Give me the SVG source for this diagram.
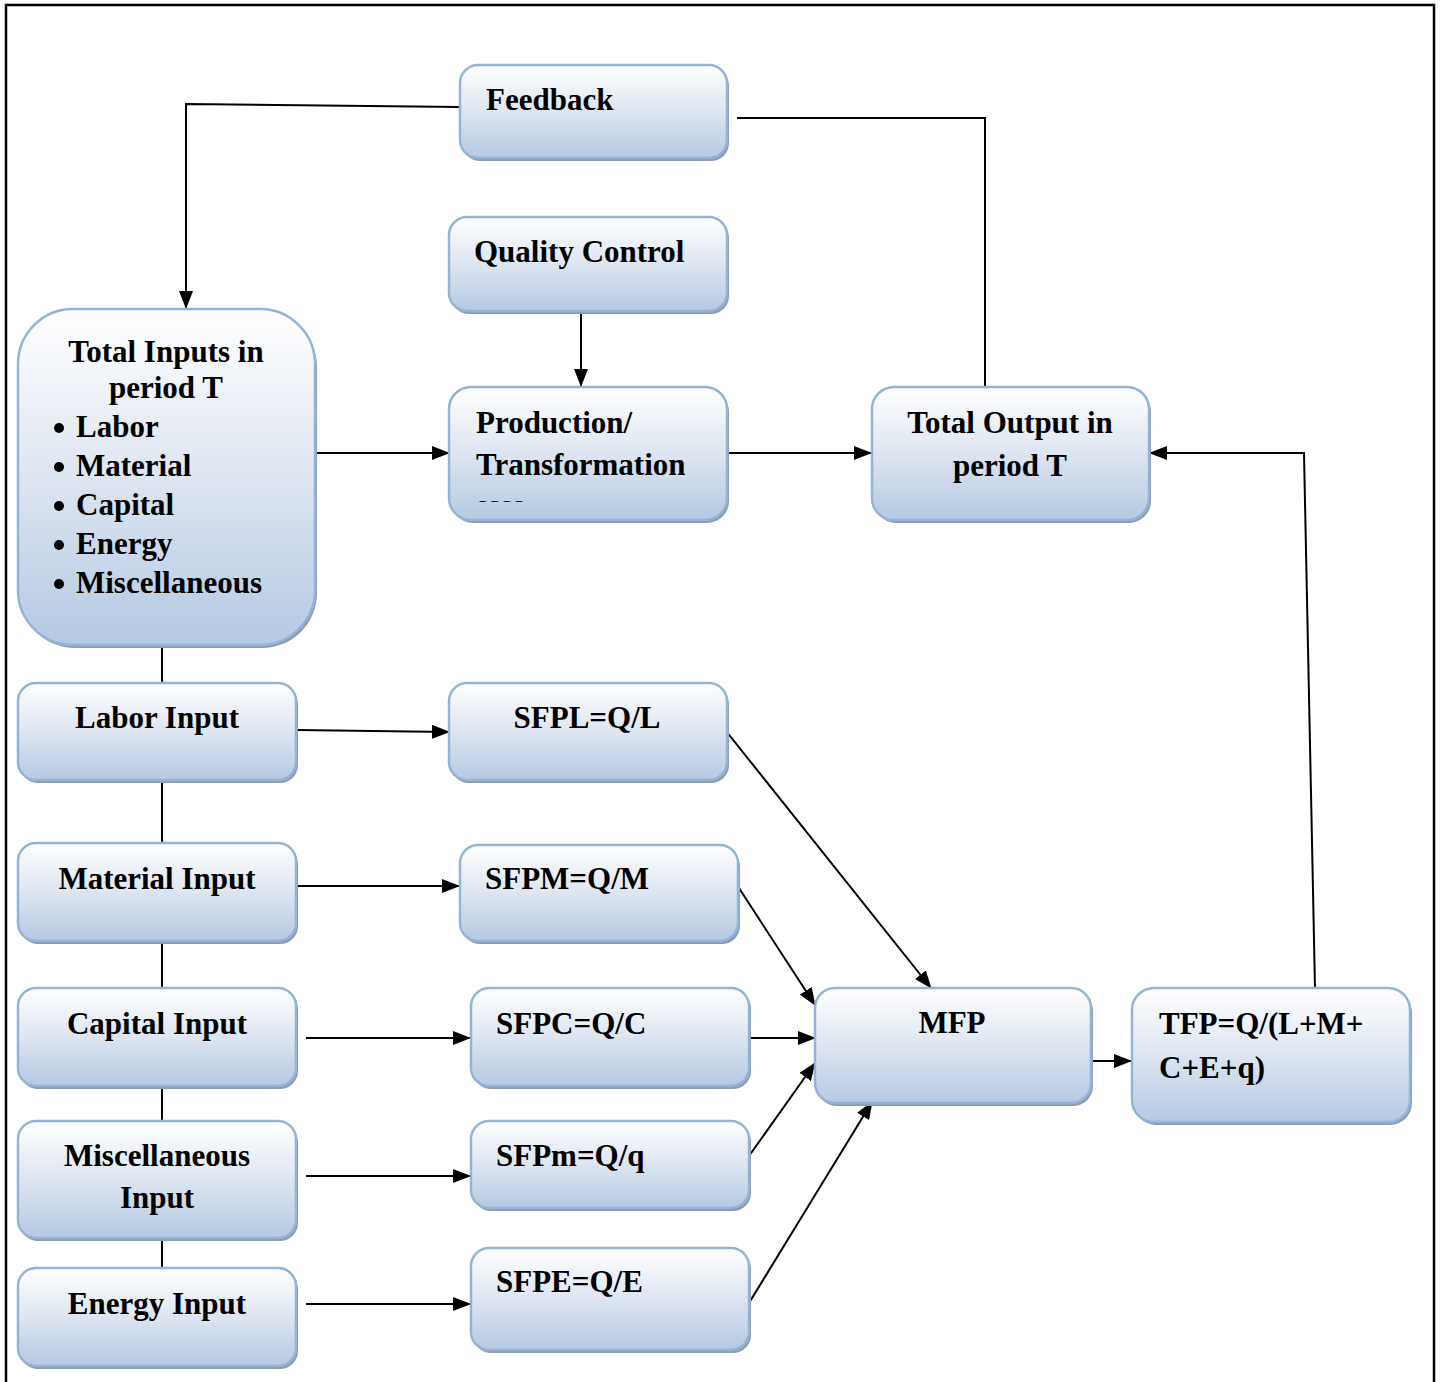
<svg xmlns="http://www.w3.org/2000/svg" width="1442" height="1382" viewBox="0 0 1442 1382">
<defs>
<linearGradient id="g" x1="0" y1="0" x2="0" y2="1">
<stop offset="0" stop-color="#ffffff"/>
<stop offset="0.45" stop-color="#e1e8f2"/>
<stop offset="1" stop-color="#b5c9e3"/>
</linearGradient>
<marker id="ah" markerWidth="18" markerHeight="14" refX="17" refY="7" orient="auto" markerUnits="userSpaceOnUse">
<path d="M0,0 L18,7 L0,14 Z" fill="#000"/>
</marker>
<clipPath id="pclip"><rect x="449" y="387" width="278" height="115"/></clipPath>
</defs>
<style>
.box{fill:url(#g);stroke:#95b3d7;stroke-width:2.5}
.sh{fill:#8e9cb0}
.t{font-family:"Liberation Serif","Times New Roman",serif;font-weight:bold;font-size:31px;fill:#000}
.c{text-anchor:middle}
.ln{fill:none;stroke:#000;stroke-width:2}
.ar{fill:none;stroke:#000;stroke-width:2;marker-end:url(#ah)}
</style>
<rect x="6" y="5" width="1428" height="1400" fill="none" stroke="#000" stroke-width="2.5"/>

<g id="connectors">
<polyline class="ar" points="460,107 186,104 186,308"/>
<polyline class="ln" points="985,387 985,118 737,118"/>
<line class="ar" x1="581" y1="311" x2="581" y2="386"/>
<line class="ar" x1="315" y1="453" x2="449" y2="453"/>
<line class="ar" x1="727" y1="453" x2="871" y2="453"/>
<polyline class="ar" points="1315,988 1304,453 1150,453"/>
<line class="ln" x1="162" y1="645" x2="162" y2="683"/>
<line class="ln" x1="162" y1="781" x2="162" y2="843"/>
<line class="ln" x1="162" y1="941" x2="162" y2="988"/>
<line class="ln" x1="162" y1="1087" x2="162" y2="1121"/>
<line class="ln" x1="162" y1="1238" x2="162" y2="1268"/>
<line class="ar" x1="297" y1="730" x2="449" y2="732"/>
<line class="ar" x1="296" y1="886" x2="459" y2="886"/>
<line class="ar" x1="306" y1="1038" x2="470" y2="1038"/>
<line class="ar" x1="306" y1="1176" x2="470" y2="1176"/>
<line class="ar" x1="306" y1="1304" x2="470" y2="1304"/>
<line class="ar" x1="726" y1="731" x2="931" y2="988"/>
<line class="ar" x1="737" y1="885" x2="815" y2="1005"/>
<line class="ar" x1="749" y1="1038" x2="815" y2="1038"/>
<line class="ar" x1="749" y1="1156" x2="815" y2="1063"/>
<line class="ar" x1="749" y1="1303" x2="872" y2="1102"/>
<line class="ar" x1="1091" y1="1061" x2="1131" y2="1061"/>
</g>

<g id="feedback">
<rect class="sh" x="462" y="68" width="267" height="93" rx="18"/>
<rect class="box" x="460" y="65" width="267" height="93" rx="18"/>
<text class="t" x="486" y="110">Feedback</text>
</g>
<g id="quality">
<rect class="sh" x="451" y="220" width="278" height="94" rx="18"/>
<rect class="box" x="449" y="217" width="278" height="94" rx="18"/>
<text class="t" x="474" y="262">Quality Control</text>
</g>
<g id="production">
<rect class="sh" x="451" y="390" width="278" height="133" rx="22"/>
<rect class="box" x="449" y="387" width="278" height="133" rx="22"/>
<text class="t" x="476" y="433">Production/</text>
<text class="t" x="476" y="475">Transformation</text>
<text class="t" x="476" y="516" clip-path="url(#pclip)">ssss</text>
</g>
<g id="output">
<rect class="sh" x="874" y="390" width="277" height="133" rx="22"/>
<rect class="box" x="872" y="387" width="277" height="133" rx="22"/>
<text class="t c" x="1010" y="433">Total Output in</text>
<text class="t c" x="1010" y="476">period T</text>
</g>
<g id="inputs">
<rect class="sh" x="20" y="312" width="297" height="336" rx="55"/>
<rect class="box" x="18" y="309" width="297" height="336" rx="55"/>
<text class="t c" x="166" y="362">Total Inputs in</text>
<text class="t c" x="166" y="398">period T</text>
<g class="t">
<circle cx="59" cy="428" r="5"/><text x="76" y="437">Labor</text>
<circle cx="59" cy="467" r="5"/><text x="76" y="476">Material</text>
<circle cx="59" cy="506" r="5"/><text x="76" y="515">Capital</text>
<circle cx="59" cy="545" r="5"/><text x="76" y="554">Energy</text>
<circle cx="59" cy="584" r="5"/><text x="76" y="593">Miscellaneous</text>
</g>
</g>
<g id="labor">
<rect class="sh" x="20" y="686" width="278" height="97" rx="18"/>
<rect class="box" x="18" y="683" width="278" height="97" rx="18"/>
<text class="t c" x="157" y="728">Labor Input</text>
</g>
<g id="material">
<rect class="sh" x="20" y="846" width="278" height="98" rx="18"/>
<rect class="box" x="18" y="843" width="278" height="98" rx="18"/>
<text class="t c" x="157" y="889">Material Input</text>
</g>
<g id="capital">
<rect class="sh" x="20" y="991" width="278" height="98" rx="18"/>
<rect class="box" x="18" y="988" width="278" height="98" rx="18"/>
<text class="t c" x="157" y="1034">Capital Input</text>
</g>
<g id="misc">
<rect class="sh" x="20" y="1124" width="278" height="117" rx="18"/>
<rect class="box" x="18" y="1121" width="278" height="117" rx="18"/>
<text class="t c" x="157" y="1166">Miscellaneous</text>
<text class="t c" x="157" y="1208">Input</text>
</g>
<g id="energy">
<rect class="sh" x="20" y="1271" width="278" height="98" rx="18"/>
<rect class="box" x="18" y="1268" width="278" height="98" rx="18"/>
<text class="t c" x="157" y="1314">Energy Input</text>
</g>
<g id="sfpl">
<rect class="sh" x="451" y="686" width="278" height="97" rx="18"/>
<rect class="box" x="449" y="683" width="278" height="97" rx="18"/>
<text class="t c" x="587" y="728">SFPL=Q/L</text>
</g>
<g id="sfpm">
<rect class="sh" x="462" y="848" width="278" height="96" rx="18"/>
<rect class="box" x="460" y="845" width="278" height="96" rx="18"/>
<text class="t" x="485" y="889">SFPM=Q/M</text>
</g>
<g id="sfpc">
<rect class="sh" x="473" y="991" width="278" height="98" rx="18"/>
<rect class="box" x="471" y="988" width="278" height="98" rx="18"/>
<text class="t" x="496" y="1034">SFPC=Q/C</text>
</g>
<g id="sfpmisc">
<rect class="sh" x="473" y="1124" width="278" height="87" rx="18"/>
<rect class="box" x="471" y="1121" width="278" height="87" rx="18"/>
<text class="t" x="496" y="1166">SFPm=Q/q</text>
</g>
<g id="sfpe">
<rect class="sh" x="473" y="1251" width="278" height="102" rx="18"/>
<rect class="box" x="471" y="1248" width="278" height="102" rx="18"/>
<text class="t" x="496" y="1292">SFPE=Q/E</text>
</g>
<g id="mfp">
<rect class="sh" x="817" y="991" width="276" height="115" rx="20"/>
<rect class="box" x="815" y="988" width="276" height="115" rx="20"/>
<text class="t c" x="952" y="1033">MFP</text>
</g>
<g id="tfp">
<rect class="sh" x="1134" y="991" width="278" height="134" rx="22"/>
<rect class="box" x="1132" y="988" width="278" height="134" rx="22"/>
<text class="t" x="1159" y="1034">TFP=Q/(L+M+</text>
<text class="t" x="1159" y="1078">C+E+q)</text>
</g>
</svg>
